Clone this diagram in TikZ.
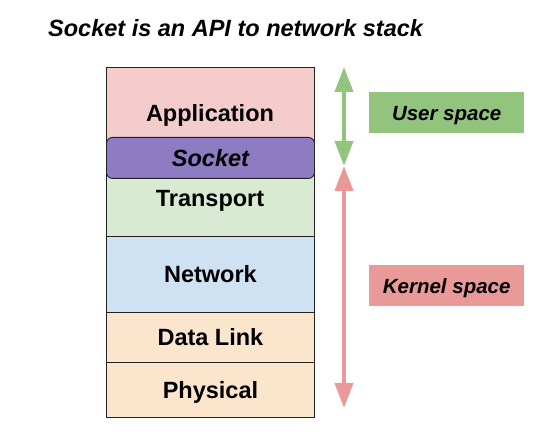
\documentclass[tikz,border=0pt]{standalone}
\usepackage{fontspec}
\setmainfont{Liberation Sans}
\usetikzlibrary{arrows.meta}
\definecolor{appc}{HTML}{F4CCCC}
\definecolor{sockc}{HTML}{8E7CC3}
\definecolor{transc}{HTML}{D9EAD3}
\definecolor{netc}{HTML}{CFE2F3}
\definecolor{linkc}{HTML}{FCE5CD}
\definecolor{greenc}{HTML}{93C47D}
\definecolor{redc}{HTML}{EA9999}
\definecolor{edgec}{HTML}{222222}
\tikzset{
  bigtext/.style={font=\fontsize{23.5}{26}\selectfont\bfseries, text height=16.8pt, text depth=0pt},
  layer/.style={draw=edgec, line width=0.9pt, minimum width=208pt, inner sep=0pt, anchor=north west, bigtext},
  label/.style={bigtext, inner sep=0pt},
  spacebox/.style={minimum width=155pt, minimum height=41pt, inner sep=0pt, anchor=north west,
    font=\fontsize{20.5}{23}\selectfont\bfseries\itshape, text height=14.7pt, text depth=0pt},
  rangearrow/.style={line width=4pt, {Triangle[width=18pt,length=25pt]}-{Triangle[width=18pt,length=25pt]}},
}
\begin{document}
\begin{tikzpicture}[x=1pt,y=-1pt]
\useasboundingbox (0,0) rectangle (560,438);
\node[anchor=base west, font=\fontsize{23.5}{26}\selectfont\bfseries\itshape, inner sep=0pt] (title) at (48,37) {Socket is an API to network stack};
\node[layer, fill=appc, minimum height=93pt] (app) at (106,67) {};
\node[label] (applbl) at (210,113) {Application};
\node[layer, fill=transc, minimum height=76pt] (trans) at (106,160) {};
\node[label] (translbl) at (210,198) {Transport};
\node[layer, fill=netc, minimum height=76pt] (net) at (106,236) {Network};
\node[layer, fill=linkc, minimum height=50pt] (link) at (106,312) {Data Link};
\node[layer, fill=linkc, minimum height=55pt] (phys) at (106,362) {Physical};
\node[layer, fill=sockc, rounded corners=6pt, minimum height=41pt, font=\fontsize{23.5}{26}\selectfont\bfseries\itshape] (sock) at (106,137) {Socket};
\node[spacebox, fill=greenc] (user) at (369,92) {User space};
\node[spacebox, fill=redc] (kern) at (369,265) {Kernel space};
\coordinate (ut) at (344,67);
\coordinate (mid) at (344,166);
\coordinate (kb) at (344,408);
\draw[rangearrow, greenc] (ut) -- (mid);
\draw[rangearrow, redc] (mid) -- (kb);
\end{tikzpicture}
\end{document}
